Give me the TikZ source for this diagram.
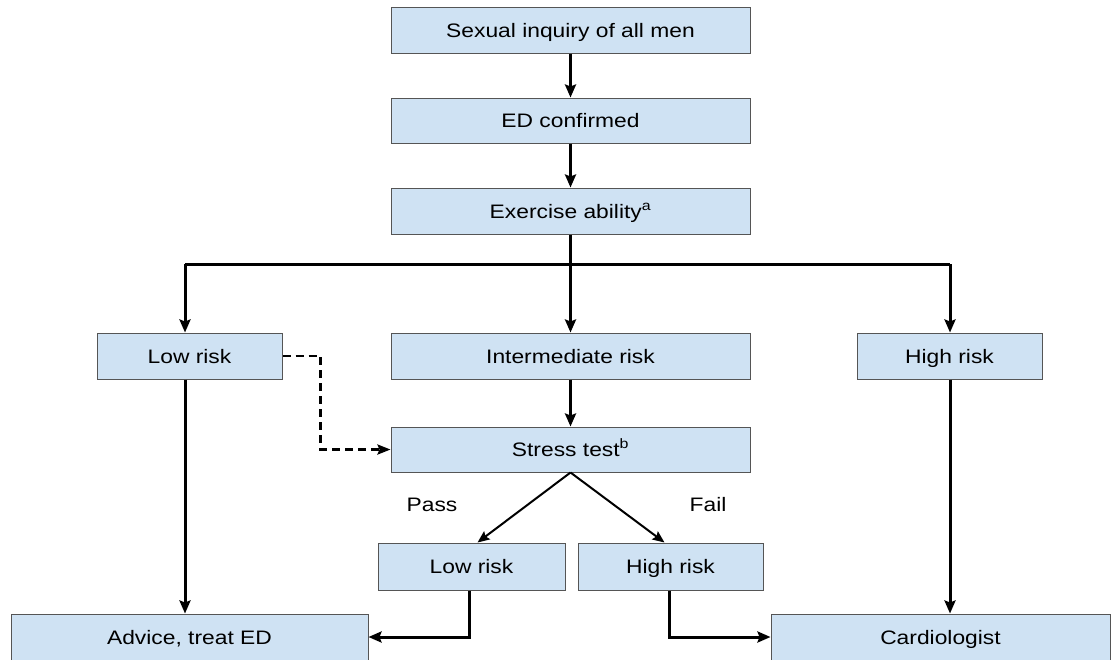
\documentclass[tikz,border=0pt]{standalone}
\usepackage{fontspec}
\setmainfont[FakeStretch=1.17]{Liberation Sans}
\usetikzlibrary{arrows.meta,calc}
\definecolor{boxfill}{HTML}{CFE2F3}
\definecolor{boxline}{HTML}{555555}
\newcommand{\bxt}[1]{\raisebox{-3pt}{#1}}
\tikzset{
  box/.style={draw=boxline, line width=1pt, fill=boxfill, rectangle, inner sep=0pt,
    text height=0.8em, text depth=0pt,
    font=\fontsize{19.5}{22}\selectfont},
  wide/.style={box, minimum width=359pt, minimum height=46pt},
  side/.style={box, minimum width=185pt, minimum height=46pt},
  arr/.style={line width=3pt, -{Stealth[length=13pt,width=11pt,inset=2pt]}},
  thinarr/.style={line width=2pt, -{Stealth[length=12pt,width=10pt,inset=2pt]}},
  dasharr/.style={line width=2.5pt, dash pattern=on 8pt off 5pt, -{Stealth[length=13pt,width=10pt,inset=2pt]}},
  lbl/.style={font=\fontsize{19.5}{22}\selectfont, inner sep=0pt}
}
\begin{document}
\begin{tikzpicture}[x=1pt,y=-1pt]
\useasboundingbox (0,0) rectangle (1116,659);
\node[wide] (sex) at (570.5,30) {\bxt{Sexual inquiry of all men}};
\node[wide, minimum height=45pt] (ed) at (570.5,120.5) {\bxt{ED confirmed}};
\node[wide] (ex) at (570.5,211) {\bxt{Exercise ability\textsuperscript{a}}};
\node[side] (low) at (189.5,356) {\bxt{Low risk}};
\node[wide] (mid) at (570.5,356) {\bxt{Intermediate risk}};
\node[side] (high) at (949.5,356) {\bxt{High risk}};
\node[wide, minimum height=45pt] (st) at (570.5,449.5) {\bxt{Stress test\textsuperscript{b}}};
\node[side, minimum width=187pt, minimum height=47pt] (low2) at (471.5,566.5) {\bxt{Low risk}};
\node[side, minimum height=47pt] (high2) at (670.5,566.5) {\bxt{High risk}};
\node[box, minimum width=357pt, minimum height=46pt] (adv) at (189.5,637) {\bxt{Advice, treat ED}};
\node[box, minimum width=339pt, minimum height=46pt] (car) at (940.5,637) {\bxt{Cardiologist}};
\node[lbl] (pass) at (432,505) {Pass};
\node[lbl] (fail) at (708,505) {Fail};
\coordinate (jn) at (570.5,264);
\coordinate (jl) at (185,264);
\coordinate (jr) at (950,264);
\draw[arr] (sex.south) -- (ed.north);
\draw[arr] (ed.south) -- (ex.north);
\draw[arr] (ex.south) -- (mid.north);
\draw[line width=3pt] (jl) -- (jr);
\draw[arr] (jl) -- (jl |- low.north);
\draw[arr] (jr) -- (jr |- high.north);
\draw[arr] (mid.south) -- (st.north);
\draw[arr] (low.south -| jl) -- (adv.north -| jl);
\draw[arr] (high.south -| jr) -- (car.north -| jr);
\draw[dasharr] (low.east) -- ++(38,0) |- (st.west);
\draw[thinarr] (st.south) -- ($(low2.north)+(6,0)$);
\draw[thinarr] (st.south) -- ($(high2.north)+(-6,0)$);
\draw[arr] ($(low2.south)+(-2.5,0)$) |- (adv.east);
\draw[arr] ($(high2.south)+(-1.5,0)$) |- (car.west);
\end{tikzpicture}
\end{document}
